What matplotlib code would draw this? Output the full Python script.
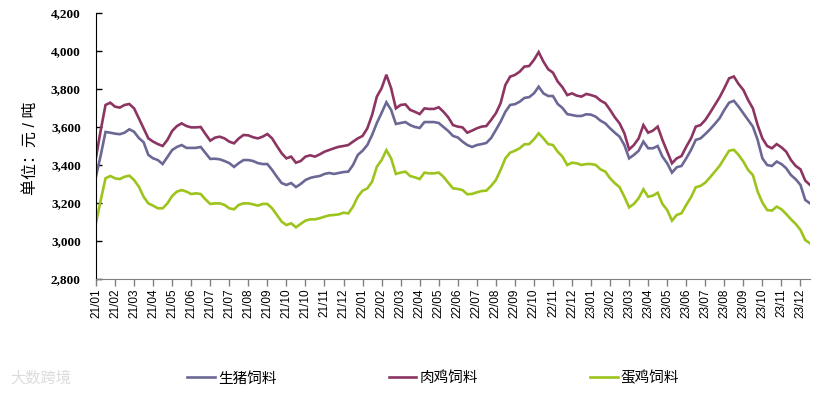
import matplotlib
matplotlib.use("Agg")
import matplotlib.pyplot as plt
import numpy as np

plt.rcParams['font.family'] = ['Liberation Sans', 'Noto Sans CJK SC']

# weekly feed prices, 元/吨
pig = [
    3340, 3452, 3574, 3570, 3565, 3562, 3570, 3588, 3575, 3542,
    3520, 3453, 3435, 3426, 3405, 3442, 3479, 3495, 3505, 3490,
    3490, 3490, 3495, 3463, 3432, 3433, 3430, 3421, 3410, 3390,
    3410, 3426, 3426, 3421, 3410, 3405, 3405, 3374, 3338, 3305,
    3295, 3305, 3284, 3300, 3321, 3332, 3338, 3342, 3353, 3358,
    3353, 3358, 3363, 3365, 3400, 3453, 3475, 3505, 3558, 3621,
    3674, 3730, 3690, 3616, 3621, 3626, 3610, 3600, 3595, 3626,
    3626, 3626, 3621, 3600, 3579, 3553, 3545, 3523, 3505, 3495,
    3505, 3510, 3516, 3542, 3584, 3628, 3680, 3716, 3720, 3733,
    3753, 3757, 3777, 3812, 3777, 3763, 3763, 3721, 3700, 3668,
    3663, 3658, 3658, 3667, 3665, 3654, 3633, 3619, 3593, 3570,
    3549, 3505, 3435, 3453, 3475, 3523, 3488, 3488, 3500, 3444,
    3409, 3360, 3388, 3395, 3435, 3479, 3532, 3540, 3563, 3588,
    3616, 3646, 3690, 3728, 3738, 3707, 3672, 3637, 3602, 3532,
    3435, 3400, 3395, 3418, 3405, 3383, 3347, 3325, 3295, 3216,
    3198]

broiler = [
    3440, 3584, 3716, 3728, 3707, 3702, 3716, 3721, 3698, 3646,
    3593, 3540, 3523, 3510, 3500, 3532, 3579, 3605, 3619, 3605,
    3598, 3598, 3600, 3563, 3528, 3544, 3549, 3540, 3523, 3514,
    3540, 3558, 3556, 3546, 3540, 3549, 3563, 3540, 3500, 3462,
    3435, 3444, 3412, 3421, 3444, 3451, 3444, 3456, 3470, 3479,
    3488, 3496, 3500, 3505, 3523, 3540, 3553, 3593, 3663, 3760,
    3804, 3875, 3804, 3698, 3716, 3719, 3690, 3680, 3668, 3698,
    3695, 3695, 3704, 3680, 3651, 3610, 3602, 3598, 3570, 3581,
    3593, 3602, 3605, 3637, 3672, 3725, 3821, 3865, 3874, 3891,
    3918, 3921, 3953, 3994, 3944, 3904, 3886, 3839, 3809, 3768,
    3777, 3765, 3760, 3774, 3768, 3760, 3739, 3725, 3690, 3651,
    3619, 3567, 3482, 3505, 3540, 3610, 3570, 3581, 3602, 3532,
    3470, 3409, 3435, 3447, 3496, 3540, 3602, 3610, 3637, 3675,
    3716, 3756, 3804, 3856, 3866, 3826, 3795, 3742, 3698, 3610,
    3540, 3500, 3488, 3510, 3493, 3470, 3426, 3395, 3377, 3318,
    3295]

layer = [
    3095, 3216, 3330, 3342, 3330, 3326, 3338, 3344, 3321, 3286,
    3233, 3198, 3186, 3172, 3172, 3198, 3237, 3260, 3268, 3260,
    3247, 3251, 3247, 3219, 3195, 3198, 3198, 3190, 3172, 3167,
    3190, 3198, 3198, 3193, 3186, 3195, 3195, 3172, 3137, 3102,
    3084, 3093, 3072, 3090, 3107, 3114, 3114, 3120, 3128, 3135,
    3137, 3140, 3149, 3145, 3181, 3233, 3265, 3277, 3312, 3391,
    3426, 3478, 3435, 3353, 3360, 3365, 3342, 3335, 3326, 3360,
    3356, 3356, 3360, 3338, 3307, 3277, 3274, 3268, 3246, 3248,
    3256, 3263, 3265, 3290, 3321, 3374, 3435, 3465, 3475, 3488,
    3509, 3510, 3535, 3567, 3540, 3510, 3505, 3470, 3444, 3400,
    3412, 3409, 3400, 3405, 3405, 3400, 3377, 3365, 3330, 3304,
    3283, 3233, 3177, 3195, 3225, 3272, 3233, 3239, 3254, 3195,
    3163, 3107, 3137, 3146, 3190, 3230, 3283, 3290, 3307, 3335,
    3365, 3395, 3435, 3475, 3480, 3453, 3418, 3374, 3347, 3260,
    3202, 3163, 3160, 3181, 3167, 3142, 3114, 3090, 3058, 3005,
    2988]

tick_labels = ["21/01", "21/02", "21/03", "21/04", "21/05", "21/06", "21/07",
               "21/07", "21/08", "21/09", "21/10", "21/10", "21/11", "21/12",
               "22/01", "22/02", "22/03", "22/04", "22/05", "22/06", "22/07",
               "22/08", "22/09", "22/10", "22/11", "22/12",
               "23/01", "23/02", "23/03", "23/04", "23/05", "23/06", "23/07",
               "23/08", "23/09", "23/10", "23/11", "23/12"]
tick_step = 4

series = [("生猪饲料", pig, "#6b6896"),
          ("肉鸡饲料", broiler, "#8c3562"),
          ("蛋鸡饲料", layer, "#9cc41c")]

fig = plt.figure(figsize=(8.3, 3.94), dpi=100)
ax = fig.add_axes([96 / 830, 1 - 279 / 394, (810 - 96) / 830, (279 - 13) / 394])

x = np.arange(len(pig))
for name, vals, col in series:
    ax.plot(x, vals, color=col, lw=1.9, label=name, solid_joinstyle='miter')

ax.set_xlim(0, len(pig) - 1)
ax.set_ylim(2800, 4200)
ax.set_yticks(np.arange(2800, 4201, 200))
ax.set_yticklabels(["{:,}".format(v) for v in range(2800, 4201, 200)],
                   family='Liberation Serif', weight='bold', fontsize=9.5)
ax.tick_params(axis='y', direction='in', length=4, width=1, pad=11)

ax.set_xticks(np.arange(len(tick_labels)) * tick_step)
ax.set_xticklabels(tick_labels, rotation=90, fontsize=8.5)
ax.tick_params(axis='x', direction='out', length=5, width=1, color='#808080', pad=2)

for s in ['top', 'right']:
    ax.spines[s].set_visible(False)
ax.spines['left'].set_color('black')
ax.spines['bottom'].set_color('#808080')

ax.set_ylabel("单位：元 / 吨", fontsize=11.5)
ax.yaxis.set_label_coords(-0.082, 0.49)

fig.legend(loc='center', bbox_to_anchor=(0.522, 0.04), ncol=3, frameon=False,
           fontsize=10.5, handlelength=1.9, handletextpad=0.2, columnspacing=7.7)

# watermark
fig.text(0.012, 0.04, "大数跨境", fontsize=11, color='#dcdcdc', va='center')

fig.savefig("out.png", dpi=100)
